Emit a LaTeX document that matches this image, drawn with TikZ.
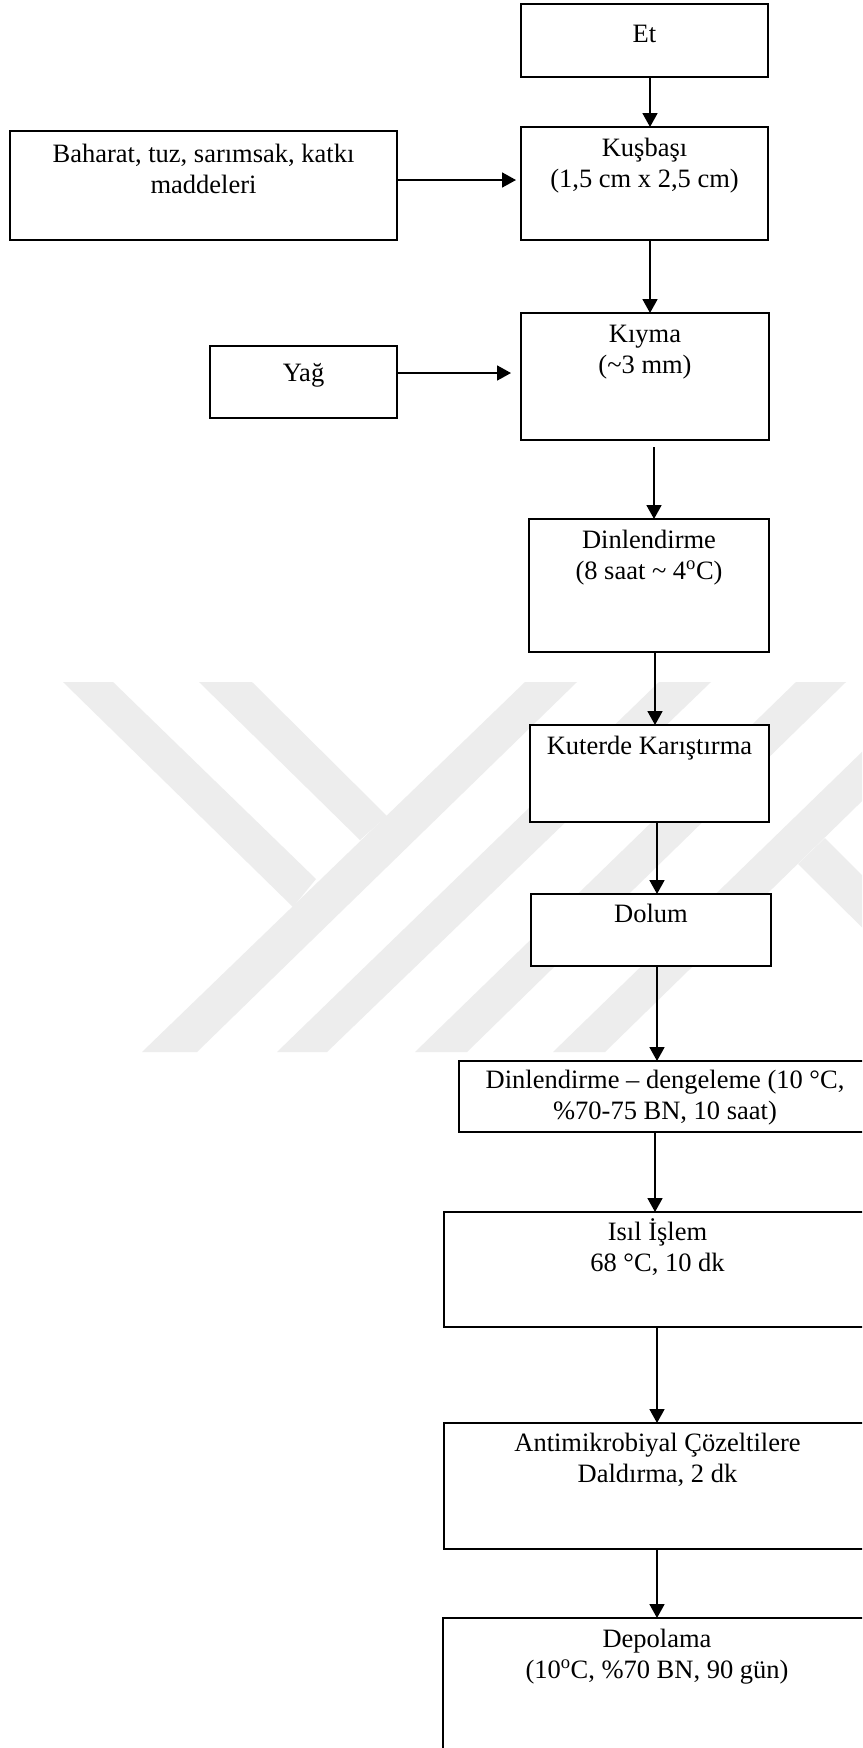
\documentclass[tikz,border=0pt]{standalone}
\usepackage{fontspec}
\setmainfont{Liberation Serif}
\usetikzlibrary{arrows.meta}
\definecolor{wm}{RGB}{237,237,237}
\begin{document}
\begin{tikzpicture}[x=1pt,y=-1pt,
  box/.style={draw, line width=1.7pt, fill=white, inner sep=0pt, outer sep=0pt, anchor=north west},
  lbl/.style={font=\fontsize{26.5}{31}\selectfont, anchor=base, inner sep=0pt},
  arr/.style={line width=1.8pt, -{Triangle[width=15pt,length=14pt]}},
  wmark/.style={fill=wm, draw=none}]
\clip (0,0) rectangle (862,1748);
\fill[white] (0,0) rectangle (862,1748);
% watermark
\fill[wmark] (142,1052) -- (197,1052) -- (577,682) -- (525,682) -- cycle;
\fill[wmark] (277,1052) -- (327,1052) -- (711,682) -- (659,682) -- cycle;
\fill[wmark] (415,1052) -- (467,1052) -- (846,682) -- (796,682) -- cycle;
\fill[wmark] (553,1052) -- (605,1052) -- (984,682) -- (934,682) -- cycle;
\fill[wmark] (63,682) -- (113,682) -- (316,879) -- (293,907) -- cycle;
\fill[wmark] (199,682) -- (252,682) -- (387,816) -- (360,840) -- cycle;
\fill[wmark] (825,838) -- (900,913) -- (900,965) -- (798,864) -- cycle;
% boxes
\node[box, minimum width=247pt, minimum height=73pt] (et) at (521,4) {};
\node[box, minimum width=247pt, minimum height=113pt] (kus) at (521,127) {};
\node[box, minimum width=387pt, minimum height=109pt] (bah) at (10,131) {};
\node[box, minimum width=248pt, minimum height=127pt] (kiy) at (521,313) {};
\node[box, minimum width=187pt, minimum height=72pt] (yag) at (210,346) {};
\node[box, minimum width=240pt, minimum height=133pt] (din) at (529,519) {};
\node[box, minimum width=239pt, minimum height=97pt] (kut) at (530,725) {};
\node[box, minimum width=240pt, minimum height=72pt] (dol) at (531,894) {};
\node[box, minimum width=412pt, minimum height=71pt] (dd) at (459,1061) {};
\node[box, minimum width=427pt, minimum height=115pt] (isil) at (444,1212) {};
\node[box, minimum width=427pt, minimum height=126pt] (anti) at (444,1423) {};
\node[box, minimum width=428pt, minimum height=150pt] (dep) at (443,1618) {};
% texts
\node[lbl] (et1) at (et.north |- 0,42) {Et};
\node[lbl] (kus1) at (kus.north |- 0,156) {Kuşbaşı};
\node[lbl] (kus2) at (kus.north |- 0,187) {(1,5 cm x 2,5 cm)};
\node[lbl] (bah1) at (bah.north |- 0,162) {Baharat, tuz, sarımsak, katkı};
\node[lbl] (bah2) at (bah.north |- 0,193) {maddeleri};
\node[lbl] (kiy1) at (kiy.north |- 0,342) {Kıyma};
\node[lbl] (kiy2) at (kiy.north |- 0,373) {(\textasciitilde3 mm)};
\node[lbl] (yag1) at (yag.north |- 0,381) {Yağ};
\node[lbl] (din1) at (din.north |- 0,548) {Dinlendirme};
\node[lbl] (din2) at (din.north |- 0,579) {(8 saat \textasciitilde{} 4\textsuperscript{o}C)};
\node[lbl] (kut1) at (kut.north |- 0,754) {Kuterde Karıştırma};
\node[lbl] (dol1) at (dol.north |- 0,922) {Dolum};
\node[lbl] (dd1) at (dd.north |- 0,1088) {Dinlendirme – dengeleme (10 °C,};
\node[lbl] (dd2) at (dd.north |- 0,1119) {\%70-75 BN, 10 saat)};
\node[lbl] (isil1) at (isil.north |- 0,1240) {Isıl İşlem};
\node[lbl] (isil2) at (isil.north |- 0,1271) {68 °C, 10 dk};
\node[lbl] (anti1) at (anti.north |- 0,1451) {Antimikrobiyal Çözeltilere};
\node[lbl] (anti2) at (anti.north |- 0,1482) {Daldırma, 2 dk};
\node[lbl] (dep1) at (dep.north |- 0,1647) {Depolama};
\node[lbl] (dep2) at (dep.north |- 0,1678) {(10\textsuperscript{o}C, \%70 BN, 90 gün)};
% arrows
\draw[arr] (et.south -| 650,0) -- (kus.north -| 650,0);
\draw[arr] (kus.south -| 650,0) -- (kiy.north -| 650,0);
\draw[arr, shorten <=7pt] (kiy.south -| 654,0) -- (din.north -| 654,0);
\draw[arr] (din.south -| 655,0) -- (kut.north -| 655,0);
\draw[arr] (kut.south -| 657,0) -- (dol.north -| 657,0);
\draw[arr] (dol.south -| 657,0) -- (dd.north -| 657,0);
\draw[arr] (dd.south -| 655,0) -- (isil.north -| 655,0);
\draw[arr] (isil.south -| 657,0) -- (anti.north -| 657,0);
\draw[arr] (anti.south -| 657,0) -- (dep.north -| 657,0);
\draw[arr, shorten >=5pt] (bah.east |- 0,180) -- (kus.west |- 0,180);
\draw[arr, shorten >=10pt] (yag.east |- 0,373) -- (kiy.west |- 0,373);
\end{tikzpicture}
\end{document}
